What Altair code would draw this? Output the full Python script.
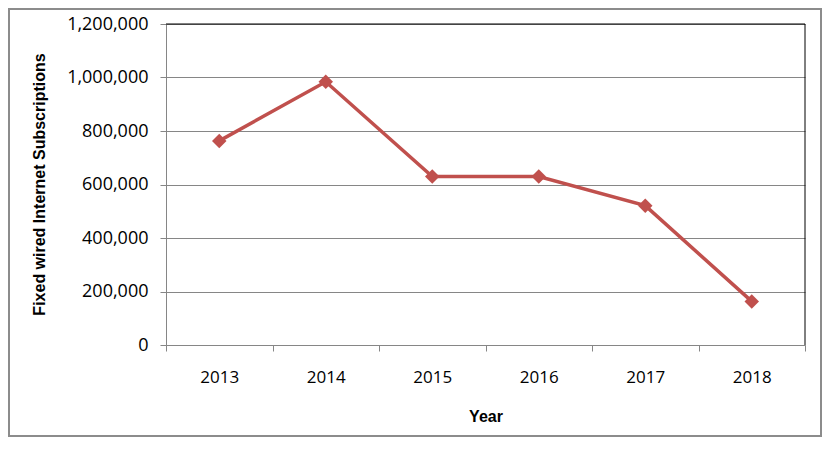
import altair as alt
import pandas as pd

years = ["2013", "2014", "2015", "2016", "2017", "2018"]
subscriptions = [763000, 984000, 630000, 630000, 521000, 163000]
y_tick_values = [0, 200000, 400000, 600000, 800000, 1000000, 1200000]

df = pd.DataFrame({"Year": years, "Subs": subscriptions})

LINE_COLOR = "#C0504D"
GRID_COLOR = "#868686"
W, H = 639, 321

x_enc = alt.X(
    "Year:O",
    sort=years,
    scale=alt.Scale(type="band", paddingInner=0, paddingOuter=0),
    axis=alt.Axis(
        title="Year",
        labelAngle=0,
        tickBand="extent",
        tickSize=6,
        tickColor=GRID_COLOR,
        domainColor=GRID_COLOR,
        labelPadding=18,
        labelFont="Open Sans",
        labelFontSize=17,
        labelColor="#000000",
        titleFont="Liberation Sans",
        titleFontWeight="bold",
        titleFontSize=16,
        titleColor="#000000",
        titleX=W / 2,
        titleY=71,
        titleBaseline="middle",
        grid=False,
    ),
)

y_enc = alt.Y(
    "Subs:Q",
    scale=alt.Scale(domain=[0, 1200000], nice=False, zero=True),
    axis=alt.Axis(
        title="Fixed wired Internet Subscriptions",
        values=y_tick_values,
        format=",.0f",
        tickSize=6,
        tickColor=GRID_COLOR,
        domainColor=GRID_COLOR,
        grid=True,
        gridColor=GRID_COLOR,
        gridOpacity=1,
        labelPadding=12,
        labelFont="Open Sans",
        labelFontSize=18,
        labelColor="#000000",
        titleFont="Liberation Sans",
        titleFontWeight="bold",
        titleFontSize=16,
        titleColor="#000000",
        titleX=-127,
        titleY=160,
        titleBaseline="middle",
    ),
)

base = alt.Chart(df)
line = base.mark_line(color=LINE_COLOR, strokeWidth=3.5).encode(x=x_enc, y=y_enc)
points = base.mark_point(
    shape="diamond", filled=True, size=210, color=LINE_COLOR, opacity=1
).encode(x=x_enc, y=y_enc)

one = alt.Data(values=[{"k": 1}])
top_rule = alt.Chart(one).mark_rule(color="#000000", strokeWidth=1).encode(
    x=alt.value(0), x2=alt.value(W), y=alt.value(0)
)
right_rule = alt.Chart(one).mark_rule(color="#000000", strokeWidth=1).encode(
    x=alt.value(W), y=alt.value(0), y2=alt.value(H)
)
frame = alt.Chart(one).mark_rect(
    fillOpacity=0, stroke="#8c8c8c", strokeWidth=2
).encode(
    x=alt.value(-157), x2=alt.value(655), y=alt.value(-15), y2=alt.value(412)
)

chart = (
    alt.layer(line, points, top_rule, right_rule, frame)
    .properties(
        width=W,
        height=H,
        padding={"left": 158, "top": 16, "right": 17, "bottom": 93},
        autosize=alt.AutoSizeParams(type="none"),
        background="#ffffff",
    )
    .configure_view(stroke=None)
)

chart.save("out.html", embed_options={"renderer": "svg", "actions": False})
